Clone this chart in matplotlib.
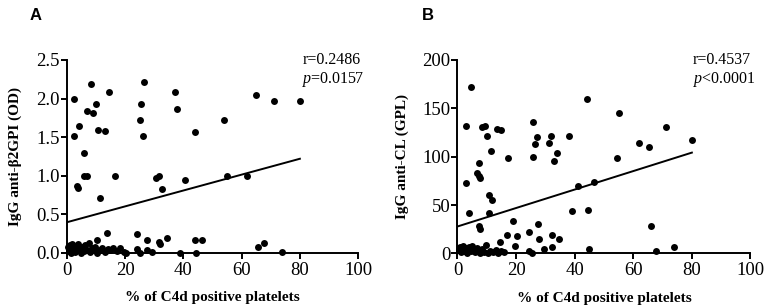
import numpy as np
import matplotlib
matplotlib.use('Agg')
import matplotlib.pyplot as plt

# Panel A: IgG anti-b2GPI (OD) vs % C4d positive platelets
a_x = [2.5, 8.2, 14.5, 26.6, 37.0, 4.2, 6.9, 8.9, 9.9, 10.9, 13.1, 2.4, 25.6, 25.3, 26.2,
       37.7, 44.1, 54.1, 65.0, 71.1, 79.9,
       6.1, 6.1, 7.1, 3.4, 3.8, 11.4, 16.7, 30.6, 31.5, 32.6, 40.7, 55.1, 61.7,
       10.4, 13.9, 24.0, 27.6, 31.5, 32.0, 34.3, 44.1, 46.4, 38.8, 44.5, 65.5, 67.7, 73.7,
       0.5, 0.8, 1.0, 1.2, 1.5, 1.8, 2.0, 2.4, 2.8, 3.2, 3.5, 3.9, 4.3, 4.8, 5.3, 5.8,
       6.3, 6.9, 7.5, 8.0, 8.6, 9.2, 9.8, 10.5, 11.3, 12.0, 13.0, 14.0, 15.0, 16.0,
       17.2, 18.2, 19.5, 20.5, 24.0, 25.2, 27.6, 29.1]
a_y = [2.00, 2.19, 2.08, 2.21, 2.09, 1.64, 1.84, 1.81, 1.93, 1.59, 1.58, 1.51, 1.93, 1.72, 1.51,
       1.87, 1.56, 1.72, 2.04, 1.97, 1.97,
       1.30, 1.00, 1.00, 0.86, 0.84, 0.71, 1.00, 0.97, 1.00, 0.83, 0.94, 1.00, 1.00,
       0.165, 0.26, 0.24, 0.17, 0.14, 0.12, 0.19, 0.17, 0.17, 0.0, 0.0, 0.08, 0.13, 0.01,
       0.08, 0.02, 0.10, 0.05, 0.0, 0.12, 0.04, 0.08, 0.01, 0.09, 0.03, 0.12, 0.06, 0.0, 0.07, 0.02,
       0.10, 0.04, 0.13, 0.01, 0.06, 0.03, 0.08, 0.0, 0.04, 0.06, 0.01, 0.05, 0.03, 0.06,
       0.02, 0.06, 0.01, 0.0, 0.05, 0.0, 0.03, 0.01]
a_fit = [0.395, 0.0103]  # intercept, slope (line drawn 0..80)

# Panel B: IgG anti-CL (GPL) vs % C4d positive platelets
b_x = [4.7, 3.0, 8.5, 9.3, 10.2, 13.4, 14.9, 11.3, 25.9, 27.0, 26.4, 31.1, 32.0, 37.9,
       44.3, 55.3, 62.1, 65.2, 71.3, 80.0,
       17.2, 25.7, 32.9, 34.1, 54.3, 7.3, 3.0, 6.6, 7.3, 7.6, 10.8, 11.8, 3.9, 10.8, 7.3, 7.6,
       41.0, 46.5, 39.2, 44.6, 18.8, 27.6, 65.9, 24.5, 32.4, 17.0, 20.4, 27.9, 34.5, 14.4,
       9.6, 19.6, 32.1, 29.4, 44.8, 73.9, 67.8, 24.3, 25.5,
       0.5, 0.8, 1.2, 1.5, 2.0, 2.3, 2.8, 3.2, 3.6, 4.0, 4.5, 5.0, 5.5, 6.0, 6.5, 7.0,
       7.8, 8.5, 9.2, 10.5, 11.2, 12.0, 13.0, 14.0, 15.0, 16.0]
b_y = [172, 131.5, 130.4, 131.5, 121, 128.3, 127.6, 106, 135.7, 120.3, 113.3, 114.3, 121.3, 121.3,
       159.8, 144.8, 114.3, 110.1, 130.4, 117.5,
       99, 100, 96, 104, 99, 93, 73, 83, 80.5, 78, 60, 55.5, 41.7, 41.7, 28.5, 25,
       69.4, 74, 43.4, 45.1, 33.7, 30.6, 28.5, 22.6, 19.1, 19.1, 18, 15.3, 15.3, 12.2,
       8.7, 7.6, 6.3, 4.2, 4.2, 6.3, 2.4, 2.8, 0,
       3, 7, 1, 5, 8, 2, 6, 0, 4, 7, 2, 8, 4, 1, 6, 3,
       0, 5, 1, 0, 2, 1, 3, 0, 2, 1]
b_fit = [27.8, 0.955]

xlabel = '% of C4d positive platelets'

plt.rcParams['font.family'] = ['Liberation Serif', 'DejaVu Serif']
plt.rcParams['mathtext.fontset'] = 'custom'
plt.rcParams['mathtext.it'] = 'Liberation Serif:italic'
plt.rcParams['mathtext.rm'] = 'Liberation Serif'

fig = plt.figure(figsize=(7.65, 3.06), dpi=100)
ax_a = fig.add_axes([0.0872, 0.174, 0.381, 0.63])
ax_b = fig.add_axes([0.598, 0.172, 0.383, 0.632])


def style_panel(ax, x, y, fit, ylim, yticks, yticklabels, ylabel):
    ax.scatter(x, y, s=25, color='black', zorder=3, clip_on=False, linewidths=0)
    xs = np.array([0, 80])
    ax.plot(xs, fit[0] + fit[1] * xs, color='black', lw=1.4)
    ax.set_xlim(0, 100)
    ax.set_ylim(*ylim)
    ax.set_xticks([0, 20, 40, 60, 80, 100])
    ax.set_yticks(yticks)
    ax.set_yticklabels(yticklabels)
    for side in ['top', 'right']:
        ax.spines[side].set_visible(False)
    for side in ['left', 'bottom']:
        ax.spines[side].set_linewidth(1.4)
    ax.tick_params(direction='out', length=4, width=1.4, labelsize=13.5, pad=1)
    ax.tick_params(axis='x', pad=2.5)
    ax.set_xlabel(xlabel, fontsize=11, fontweight='bold', labelpad=9)
    ax.set_ylabel(ylabel, fontsize=11, fontweight='bold', labelpad=10)


style_panel(ax_a, a_x, a_y, a_fit, (0, 2.5), [0, 0.5, 1.0, 1.5, 2.0, 2.5],
            ['0.0', '0.5', '1.0', '1.5', '2.0', '2.5'], 'IgG anti-\u03b22GPI (OD)')
style_panel(ax_b, b_x, b_y, b_fit, (0, 200), [0, 50, 100, 150, 200],
            ['0', '50', '100', '150', '200'], 'IgG anti-CL (GPL)')

ax_a.text(0.808, 1.0, 'r=0.2486', transform=ax_a.transAxes, fontsize=11.5, va='center')
ax_a.text(0.808, 0.9, '$p$=0.0157', transform=ax_a.transAxes, fontsize=11.5, va='center')
ax_b.text(0.803, 1.0, 'r=0.4537', transform=ax_b.transAxes, fontsize=11.5, va='center')
ax_b.text(0.803, 0.9, '$p$<0.0001', transform=ax_b.transAxes, fontsize=11.5, va='center')

fig.text(30 / 765, 1 - 15 / 306, 'A', fontsize=12, fontweight='bold', family='Liberation Sans',
         va='center')
fig.text(422 / 765, 1 - 15 / 306, 'B', fontsize=12, fontweight='bold', family='Liberation Sans',
         va='center')

fig.savefig('out.png', dpi=100)
